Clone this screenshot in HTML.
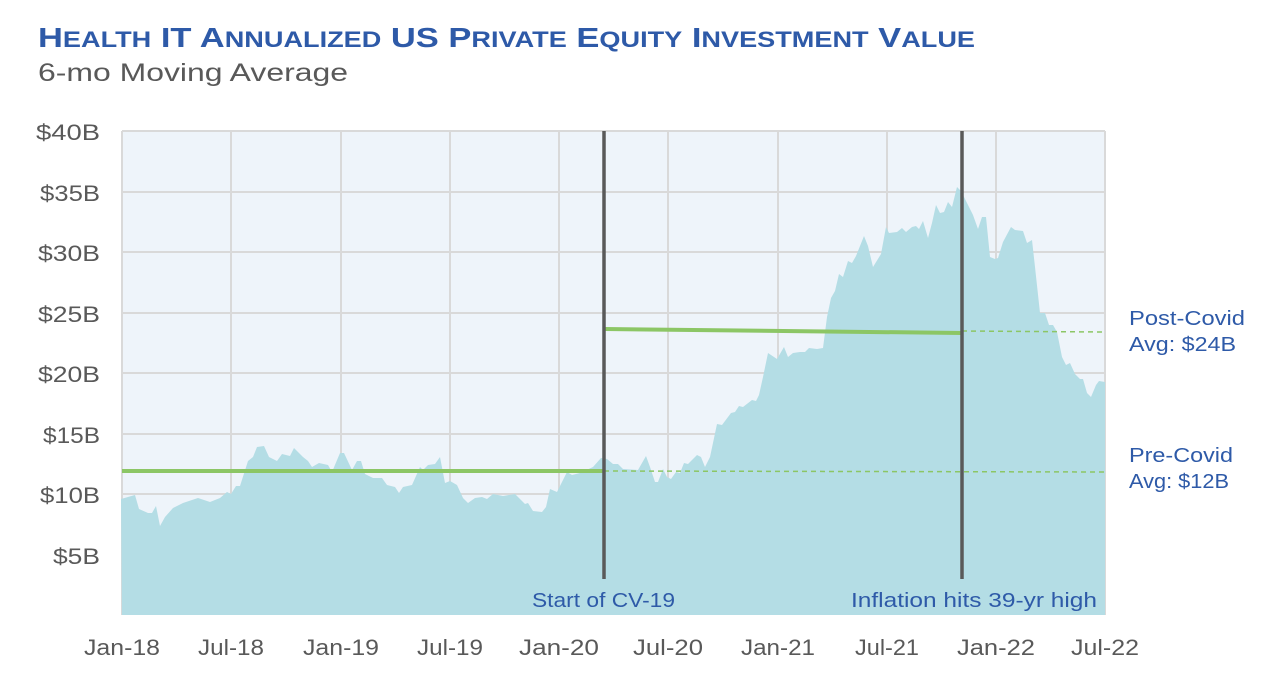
<!DOCTYPE html>
<html><head><meta charset="utf-8"><style>
html,body{margin:0;padding:0;background:#fff;width:1274px;height:694px;overflow:hidden}
</style></head><body>
<svg width="1274" height="694" viewBox="0 0 1274 694" xmlns="http://www.w3.org/2000/svg" font-family="Liberation Sans, sans-serif">
<text x="38" y="47" fill="#2e5aa8" font-weight="bold" font-size="28" textLength="937" lengthAdjust="spacingAndGlyphs">H<tspan font-size="22">EALTH</tspan> IT A<tspan font-size="22">NNUALIZED</tspan> US P<tspan font-size="22">RIVATE</tspan> E<tspan font-size="22">QUITY</tspan> I<tspan font-size="22">NVESTMENT</tspan> V<tspan font-size="22">ALUE</tspan></text>
<text x="38" y="81" fill="#595959" font-size="25" textLength="310" lengthAdjust="spacingAndGlyphs">6-mo Moving Average</text>
<rect x="122" y="131" width="983" height="484" fill="#eef4fa"/>
<g stroke="#d9d9d9" stroke-width="2">
<line x1="122" y1="131" x2="1105" y2="131"/><line x1="122" y1="192" x2="1105" y2="192"/><line x1="122" y1="252" x2="1105" y2="252"/><line x1="122" y1="313" x2="1105" y2="313"/><line x1="122" y1="373" x2="1105" y2="373"/><line x1="122" y1="434" x2="1105" y2="434"/><line x1="122" y1="494" x2="1105" y2="494"/><line x1="122" y1="555" x2="1105" y2="555"/>
<line x1="122" y1="131" x2="122" y2="615"/><line x1="231" y1="131" x2="231" y2="615"/><line x1="341" y1="131" x2="341" y2="615"/><line x1="450" y1="131" x2="450" y2="615"/><line x1="559" y1="131" x2="559" y2="615"/><line x1="668" y1="131" x2="668" y2="615"/><line x1="778" y1="131" x2="778" y2="615"/><line x1="887" y1="131" x2="887" y2="615"/><line x1="996" y1="131" x2="996" y2="615"/><line x1="1105" y1="131" x2="1105" y2="615"/>
</g>
<polygon fill="#b4dde5" points="122,615 121,499 135,495 139,509 148,513 152,513 156,506 160,526 165,517 173,508 183,503 198,498 210,502 220,498 227,492 231,494 236,486 240,486 248,461 253,457 257,447 264,446 269,457 277,461 282,454 290,456 294,448 303,457 308,461 312,467 319,463 328,465 332,472 340,453 344,453 352,470 357,461 361,461 365,474 373,478 382,478 387,485 395,487 399,493 403,487 412,485 420,467 423,470 428,465 435,464 440,457 445,483 450,481 457,485 463,498 468,503 475,498 482,497 487,499 493,494 503,496 515,494 525,504 528,503 533,511 542,512 546,507 550,489 557,492 567,472 572,475 580,473 593,467 601,458 607,459 613,464 618,464 623,469 638,470 646,456 650,467 655,482 658,482 663,469 667,477 671,479 676,472 680,473 684,463 688,464 697,455 701,457 705,467 710,457 717,424 722,425 731,413 735,412 739,406 743,407 752,400 756,401 759,395 763,377 768,353 777,359 784,347 788,357 793,353 800,352 805,352 809,348 817,349 823,348 827,317 831,298 835,291 839,274 843,277 848,261 852,263 856,256 860,246 864,236 868,246 873,267 881,254 886,227 889,233 897,232 902,228 906,232 912,227 916,226 919,229 923,221 928,238 932,223 936,205 940,213 944,212 948,202 952,207 957,187 961,191 967,203 973,215 978,229 982,217 986,217 990,257 995,259 998,258 1003,242 1011,227 1015,230 1023,231 1027,243 1032,240 1035,267 1040,313 1045,313 1049,325 1053,325 1057,332 1062,357 1066,365 1070,363 1075,374 1080,379 1083,379 1087,393 1091,397 1096,385 1099,381 1105,382 1105,615"/>
<line x1="122" y1="471" x2="604" y2="471" stroke="#8cc665" stroke-width="4"/>
<line x1="604" y1="471" x2="1105" y2="472" stroke="#8cc665" stroke-width="1.5" stroke-dasharray="5,4"/>
<line x1="605" y1="329" x2="962" y2="333" stroke="#8cc665" stroke-width="4"/>
<line x1="962" y1="331" x2="1105" y2="332" stroke="#8cc665" stroke-width="1.5" stroke-dasharray="5,4"/>
<line x1="604" y1="131" x2="604" y2="579" stroke="#595959" stroke-width="3.5"/>
<line x1="962" y1="131" x2="962" y2="579" stroke="#595959" stroke-width="3.5"/>
<g fill="#595959" font-size="22" text-anchor="end">
<text x="100" y="140" textLength="64" lengthAdjust="spacingAndGlyphs">$40B</text><text x="100" y="201" textLength="60" lengthAdjust="spacingAndGlyphs">$35B</text><text x="100" y="261" textLength="62" lengthAdjust="spacingAndGlyphs">$30B</text><text x="100" y="322" textLength="62" lengthAdjust="spacingAndGlyphs">$25B</text><text x="100" y="382" textLength="62" lengthAdjust="spacingAndGlyphs">$20B</text><text x="100" y="443" textLength="57" lengthAdjust="spacingAndGlyphs">$15B</text><text x="100" y="503" textLength="60" lengthAdjust="spacingAndGlyphs">$10B</text><text x="100" y="564" textLength="47" lengthAdjust="spacingAndGlyphs">$5B</text>
</g>
<g fill="#595959" font-size="22" text-anchor="middle">
<text x="122" y="655" textLength="76" lengthAdjust="spacingAndGlyphs">Jan-18</text><text x="231" y="655" textLength="66" lengthAdjust="spacingAndGlyphs">Jul-18</text><text x="341" y="655" textLength="76" lengthAdjust="spacingAndGlyphs">Jan-19</text><text x="450" y="655" textLength="66" lengthAdjust="spacingAndGlyphs">Jul-19</text><text x="559" y="655" textLength="80" lengthAdjust="spacingAndGlyphs">Jan-20</text><text x="668" y="655" textLength="70" lengthAdjust="spacingAndGlyphs">Jul-20</text><text x="778" y="655" textLength="74" lengthAdjust="spacingAndGlyphs">Jan-21</text><text x="887" y="655" textLength="64" lengthAdjust="spacingAndGlyphs">Jul-21</text><text x="996" y="655" textLength="78" lengthAdjust="spacingAndGlyphs">Jan-22</text><text x="1105" y="655" textLength="68" lengthAdjust="spacingAndGlyphs">Jul-22</text>
</g>
<g fill="#2e5aa8" font-size="20">
<text x="532" y="607" textLength="143" lengthAdjust="spacingAndGlyphs">Start of CV-19</text>
<text x="851" y="607" textLength="246" lengthAdjust="spacingAndGlyphs">Inflation hits 39-yr high</text>
<text x="1129" y="325" textLength="116" lengthAdjust="spacingAndGlyphs">Post-Covid</text><text x="1129" y="351" textLength="107" lengthAdjust="spacingAndGlyphs">Avg: $24B</text>
<text x="1129" y="462" textLength="104" lengthAdjust="spacingAndGlyphs">Pre-Covid</text><text x="1129" y="488" textLength="100" lengthAdjust="spacingAndGlyphs">Avg: $12B</text>
</g>
</svg>
</body></html>
